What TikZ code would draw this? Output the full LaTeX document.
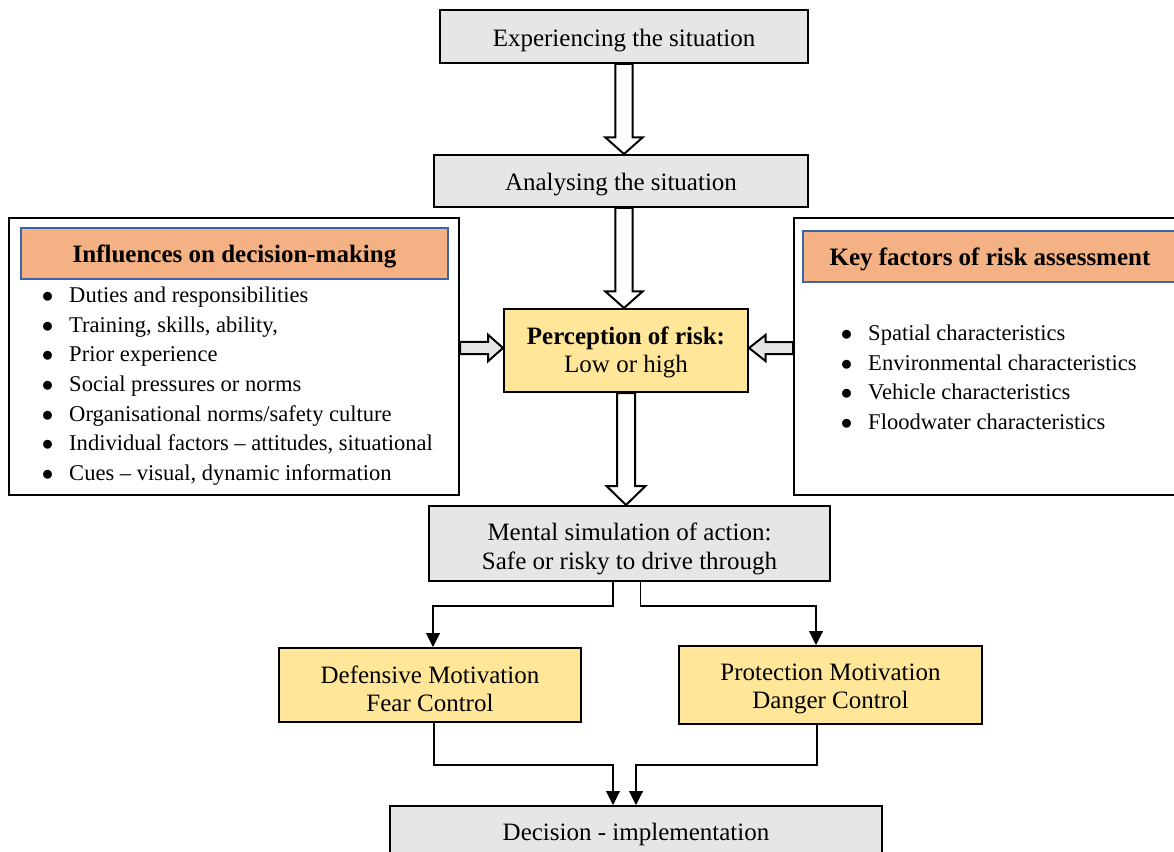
\documentclass[tikz,border=0pt]{standalone}
\usepackage{fontspec}
\setmainfont{Liberation Serif}
\usetikzlibrary{arrows.meta,calc}
\definecolor{boxgray}{HTML}{E6E6E6}
\definecolor{boxyellow}{HTML}{FFE699}
\definecolor{hdrorange}{HTML}{F4B183}
\definecolor{hdrblue}{HTML}{3E64A8}
\definecolor{arrgray}{HTML}{E6E6E6}
\newcommand\blt{\makebox[20.6pt][l]{$\bullet$}}
\begin{document}
\begin{tikzpicture}[x=0.75pt,y=-0.75pt,
  every node/.style={inner sep=0pt},
  sz/.style 2 args={minimum width=#1*0.75pt, minimum height=#2*0.75pt},
  boxtext/.style={font=\fontsize{18.75}{21.4}\selectfont, align=center, yshift=-3pt},
  hdrtext/.style={font=\fontsize{18.75}{21.4}\selectfont\bfseries, align=center, yshift=-2.2pt},
  graybox/.style={rectangle, draw=black, line width=1.5pt, fill=boxgray},
  yellowbox/.style={rectangle, draw=black, line width=1.5pt, fill=boxyellow},
  framebox/.style={rectangle, draw=black, line width=1.5pt, fill=white},
  hdrbox/.style={rectangle, draw=hdrblue, line width=1.5pt, fill=hdrorange},
  itemtext/.style={anchor=base west, font=\fontsize{16.9}{20}\selectfont},
  vblock/.style={draw=black, line width=1.5pt, fill=white, line join=miter},
  hblock/.style={draw=black, line width=1.5pt, fill=arrgray, line join=miter},
  conn/.style={draw=black, line width=0.8pt, -{Triangle[width=10.5pt,length=10.5pt]}}
]
\useasboundingbox (0,0) rectangle (1174,852);
\clip (0,0) rectangle (1174,852);

% main boxes
\node[graybox, sz={368}{53}, label={[boxtext]center:{Experiencing the situation}}] (exp) at (624,36.5) {};
\node[graybox, sz={374}{52}, label={[boxtext]center:{Analysing the situation}}] (ana) at (621,181) {};
\node[yellowbox, sz={244}{83}, label={[boxtext,yshift=1.5pt]center:{\textbf{Perception of risk:}\\Low or high}}] (perc) at (626,350.5) {};
\node[graybox, sz={401}{75}, label={[boxtext,yshift=-1pt]center:{Mental simulation of action:\\Safe or risky to drive through}}] (ment) at (629.5,543.5) {};
\node[yellowbox, sz={302}{74}, label={[boxtext]center:{Defensive Motivation\\Fear Control}}] (def) at (430,685) {};
\node[yellowbox, sz={303}{78}, label={[boxtext]center:{Protection Motivation\\Danger Control}}] (prot) at (830.5,685) {};
\node[graybox, sz={492}{54}, label={[boxtext,yshift=2pt]center:{Decision - implementation}}] (dec) at (636,833) {};

% left panel
\node[framebox, sz={450}{277}] (lbox) at (234,356.5) {};
\node[hdrbox, sz={427}{51}, label={[hdrtext]center:{Influences on decision-making}}] (lhdr) at (234.5,253.5) {};
\node[itemtext] (l1) at (41.5,302.5) {\blt Duties and responsibilities};
\node[itemtext] (l2) at (41.5,332.2) {\blt Training, skills, ability,};
\node[itemtext] (l3) at (41.5,361.8) {\blt Prior experience};
\node[itemtext] (l4) at (41.5,391.5) {\blt Social pressures or norms};
\node[itemtext] (l5) at (41.5,421.2) {\blt Organisational norms/safety culture};
\node[itemtext] (l6) at (41.5,450.8) {\blt Individual factors – attitudes, situational};
\node[itemtext] (l7) at (41.5,480.5) {\blt Cues – visual, dynamic information};

% right panel
\node[framebox, sz={396}{277}] (rbox) at (992,356.5) {};
\node[hdrbox, sz={374}{51}, label={[hdrtext]center:{Key factors of risk assessment}}] (rhdr) at (990,256.5) {};
\node[itemtext] (r1) at (840.5,340.5) {\blt Spatial characteristics};
\node[itemtext] (r2) at (840.5,370) {\blt Environmental characteristics};
\node[itemtext] (r3) at (840.5,399.5) {\blt Vehicle characteristics};
\node[itemtext] (r4) at (840.5,429) {\blt Floodwater characteristics};

% vertical block arrows
\coordinate (a1s) at (exp.south);
\coordinate (a1t) at (exp.south |- ana.north);
\draw[vblock] ($(a1s)+(-8.7,0)$) -- ($(a1t)+(-8.7,-16.7)$) -- ($(a1t)+(-18.8,-16.7)$) -- (a1t)
  -- ($(a1t)+(18.8,-16.7)$) -- ($(a1t)+(8.7,-16.7)$) -- ($(a1s)+(8.7,0)$) -- cycle;
\coordinate (a2s) at (exp.south |- ana.south);
\coordinate (a2t) at (exp.south |- perc.north);
\draw[vblock] ($(a2s)+(-8.7,0)$) -- ($(a2t)+(-8.7,-16.7)$) -- ($(a2t)+(-18.8,-16.7)$) -- (a2t)
  -- ($(a2t)+(18.8,-16.7)$) -- ($(a2t)+(8.7,-16.7)$) -- ($(a2s)+(8.7,0)$) -- cycle;
\coordinate (a3s) at (perc.south);
\coordinate (a3t) at (perc.south |- ment.north);
\draw[vblock] ($(a3s)+(-9,0)$) -- ($(a3t)+(-9,-19)$) -- ($(a3t)+(-19.5,-19)$) -- (a3t)
  -- ($(a3t)+(19.5,-19)$) -- ($(a3t)+(9,-19)$) -- ($(a3s)+(9,0)$) -- cycle;

% horizontal block arrows
\coordinate (lt) at ($(perc.west)+(0,-2.5)$);
\coordinate (ls) at (lbox.east |- lt);
\draw[hblock] ($(ls)+(0,-6.2)$) -- ($(lt)+(-15,-6.2)$) -- ($(lt)+(-15,-13.3)$) -- (lt)
  -- ($(lt)+(-15,13.3)$) -- ($(lt)+(-15,6.2)$) -- ($(ls)+(0,6.2)$) -- cycle;
\coordinate (rt) at ($(perc.east)+(0,-2.5)$);
\coordinate (rs) at (rbox.west |- rt);
\draw[hblock] ($(rs)+(0,-6)$) -- ($(rt)+(16.5,-6)$) -- ($(rt)+(16.5,-13)$) -- (rt)
  -- ($(rt)+(16.5,13)$) -- ($(rt)+(16.5,6)$) -- ($(rs)+(0,6)$) -- cycle;

% thin connectors
\draw[conn] ($(ment.south)+(-16.5,0)$) |- ($(def.north)+(3,-41)$) -- ($(def.north)+(3,0)$);
\draw[conn] ($(ment.south)+(11,0)$) |- ($(prot.north)+(-14.5,-39)$) -- ($(prot.north)+(-14.5,0)$);
\draw[conn] ($(def.south)+(4,0)$) |- ($(dec.north)+(-23,-40)$) -- ($(dec.north)+(-23,0)$);
\draw[conn] ($(prot.south)+(-13.5,0)$) |- ($(dec.north)+(0,-40)$) -- (dec.north);
\end{tikzpicture}
\end{document}
